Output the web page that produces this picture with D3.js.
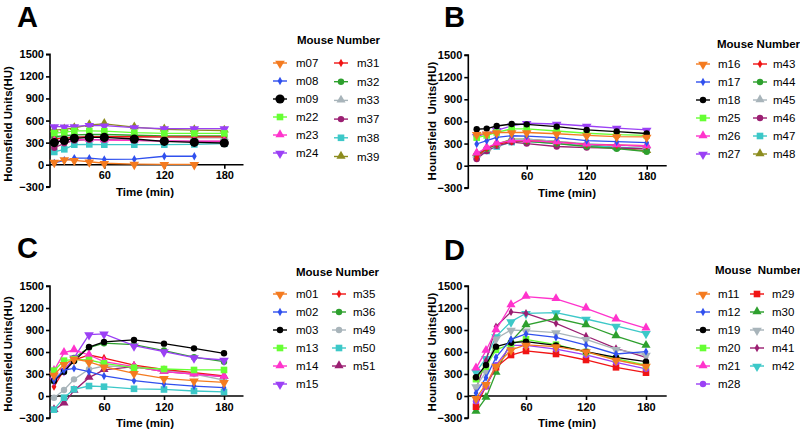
<!DOCTYPE html>
<html><head><meta charset="utf-8">
<script src="https://cdn.jsdelivr.net/npm/d3@7"></script>
<style>
body{margin:0;background:#fff;}
svg{display:block;font-family:"Liberation Sans",Arial,sans-serif;}
text{white-space:pre;}
</style></head>
<body><svg id="c" width="800" height="432"></svg>
<script>
// ---------- DATA ----------
const times = [10, 20, 30, 45, 60, 90, 120, 150, 180];
const yTicks = [-300, 0, 300, 600, 900, 1200, 1500];
const xTicks = [60, 120, 180];

const namesA = ["m07","m08","m09","m22","m23","m24","m31","m32","m33","m37","m38","m39"];
const valuesA = [
  [35, 70, 60, 40, 20, 8, 5, 5],
  [25, 60, 90, 88, 72, 75, 115, 115],
  [300, 330, 358, 371, 371, 349, 317, 304, 295],
  [430, 440, 460, 460, 455, 435, 425, 425, 425],
  [320, 330, 345, 340, 335, 330, 325, 320, 320],
  [520, 515, 520, 535, 530, 505, 490, 490, 490],
  [350, 360, 370, 380, 380, 380, 378, 378, 378],
  [380, 395, 405, 410, 410, 400, 392, 390, 390],
  [360, 370, 380, 385, 385, 375, 370, 365, 365],
  [230, 290, 330, 340, 340, 330, 320, 318, 318],
  [173, 209, 272, 276, 272, 272, 272, 275, 285],
  [470, 480, 500, 540, 555, 510, 480, 470, 465]
];

const namesB = ["m16","m17","m18","m25","m26","m27","m43","m44","m45","m46","m47","m48"];
const valuesB = [
  [425, 433, 450, 450, 450, 433, 410, 395, 390],
  [294, 339, 384, 406, 400, 380, 340, 325, 312],
  [494, 503, 538, 565, 560, 530, 485, 463, 436],
  [380, 410, 450, 500, 500, 470, 440, 420, 410],
  [167, 244, 303, 340, 340, 320, 290, 280, 270],
  [400, 430, 480, 540, 575, 565, 538, 509, 485],
  [110, 240, 290, 330, 340, 320, 290, 280, 270],
  [150, 230, 290, 340, 330, 300, 260, 230, 190],
  [140, 220, 280, 350, 360, 330, 300, 280, 260],
  [90, 200, 270, 320, 300, 260, 245, 240, 230],
  [120, 200, 260, 320, 330, 300, 270, 250, 230],
  [160, 230, 290, 360, 360, 330, 290, 240, 200]
];

const namesC = ["m01","m02","m03","m13","m14","m15","m35","m36","m49","m50","m51"];
const valuesC = [
  [286, 432, 505, 464, 400, 310, 241, 209, 186],
  [218, 354, 377, 332, 273, 209, 164, 136, 114],
  [209, 332, 477, 668, 737, 764, 714, 650, 582],
  [345, 482, 500, 491, 445, 386, 368, 355, 355],
  [345, 591, 627, 559, 468, 400, 332, 300, 264],
  [220, 350, 520, 838, 848, 686, 605, 523, 491],
  [127, 355, 490, 559, 518, 420, 364, 318, 273],
  [200, 330, 520, 660, 720, 700, 620, 530, 468],
  [-23, 82, 227, 364, 409, 400, 355, 300, 218],
  [-186, -23, 91, 136, 127, 98, 89, 68, 55],
  [-190, -100, 73, 250, 355, 400, 332, 300, 264]
];

const namesD = ["m11","m12","m19","m20","m21","m28","m29","m30","m40","m41","m42"];
const valuesD = [
  [-30, 160, 410, 630, 696, 673, 605, 491, 409],
  [40, 250, 527, 773, 846, 800, 695, 573, 605],
  [255, 423, 673, 727, 741, 691, 605, 527, 468],
  [230, 400, 630, 710, 773, 700, 600, 510, 420],
  [377, 618, 900, 1241, 1355, 1323, 1196, 1046, 923],
  [-70, 130, 420, 690, 690, 640, 560, 460, 370],
  [-146, 136, 391, 559, 614, 573, 491, 391, 318],
  [-214, -23, 318, 741, 968, 1060, 968, 818, 686],
  [130, 330, 780, 900, 891, 864, 773, 636, 560],
  [100, 480, 946, 1146, 1128, 991, 818, 650, 527],
  [330, 514, 810, 1014, 1128, 1137, 1050, 955, 855]
];

// ---------- STYLES ----------
const C = {orange:"#F47B20", blue:"#3050EE", black:"#000000", lime:"#66FF33", magenta:"#FF33CC",
  purple:"#9B40F5", red:"#F01414", green:"#2EA02E", gray:"#A8B4BA", dmag:"#9B1F72", teal:"#3CC8C8", olive:"#8C8C1E"};
const styleA = [[C.orange,"dn"],[C.blue,"dia"],[C.black,"bigcirc"],[C.lime,"sq"],[C.magenta,"up"],[C.purple,"dn"],
  [C.red,"dia"],[C.green,"circ"],[C.gray,"up"],[C.dmag,"circ"],[C.teal,"sq"],[C.olive,"up"]];
const styleB = [[C.orange,"dn"],[C.blue,"dia"],[C.black,"circ"],[C.lime,"sq"],[C.magenta,"up"],[C.purple,"dn"],
  [C.red,"dia"],[C.green,"circ"],[C.gray,"up"],[C.dmag,"circ"],[C.teal,"sq"],[C.olive,"up"]];
const styleC = [[C.orange,"dn"],[C.blue,"dia"],[C.black,"circ"],[C.lime,"sq"],[C.magenta,"up"],[C.purple,"dn"],
  [C.red,"dia"],[C.green,"circ"],[C.gray,"circ"],[C.teal,"sq"],[C.dmag,"up"]];
const styleD = [[C.orange,"dn"],[C.blue,"dia"],[C.black,"circ"],[C.lime,"sq"],[C.magenta,"up"],[C.purple,"circ"],
  [C.red,"sq"],[C.green,"up"],[C.gray,"dn"],[C.dmag,"dia"],[C.teal,"dn"]];

const panels = [
  {letter:"A", names:namesA, values:valuesA, style:styleA, x0:44.3, yAx:50, xEnd:243.5, y0:164.7, y1500:54.3,
   letterX:17, letterY:27, ylabel:"Hounsfield Units(HU)", ylabX:12, ylabY:124, xlabX:145, xlabY:196,
   legTitle:"Mouse Number", legTX:297, legTY:44, c1:[280,296], c2:[341,357], r1:63, r2:63, st1:18, st2:18.7},
  {letter:"B", names:namesB, values:valuesB, style:styleB, x0:466.7, yAx:468.3, xEnd:666.7, y0:165.7, y1500:55,
   letterX:444, letterY:27, ylabel:"Hounsfield  Units(HU)", ylabX:436, ylabY:121, xlabX:567, xlabY:197,
   legTitle:"Mouse Number", legTX:717, legTY:48, c1:[703,718], c2:[760,773], r1:64, r2:64, st1:18, st2:18},
  {letter:"C", names:namesC, values:valuesC, style:styleC, x0:44, yAx:50, xEnd:243.5, y0:396, y1500:286,
   letterX:17, letterY:258, ylabel:"Hounsfield Units(HU)", ylabX:12, ylabY:354, xlabX:145, xlabY:427,
   legTitle:"Mouse Number", legTX:296, legTY:276, c1:[280,296], c2:[339,353], r1:294, r2:294, st1:18, st2:18},
  {letter:"D", names:namesD, values:valuesD, style:styleD, x0:466, yAx:468.3, xEnd:666.7, y0:396, y1500:286,
   letterX:444, letterY:260, ylabel:"Hounsfield  Units(HU)", ylabX:436, ylabY:352, xlabX:567, xlabY:427,
   legTitle:"Mouse  Number", legTX:715, legTY:274, c1:[703,718], c2:[757,772], r1:294, r2:294, st1:18, st2:18}
];

const svg = d3.select("#c");

function drawSymbol(g, type, color, x, y) {
  let path;
  switch (type) {
    case "dn": path = d3.symbol(d3.symbolTriangle, 40)();
      g.append("path").attr("d", path).attr("transform", `translate(${x},${y+0.5}) rotate(180)`).attr("fill", color); return;
    case "up": path = d3.symbol(d3.symbolTriangle, 36)();
      g.append("path").attr("d", path).attr("transform", `translate(${x},${y-0.5})`).attr("fill", color); return;
    case "circ": g.append("circle").attr("cx", x).attr("cy", y).attr("r", 3.2).attr("fill", color); return;
    case "bigcirc": g.append("circle").attr("cx", x).attr("cy", y).attr("r", 4.6).attr("fill", color); return;
    case "sq": g.append("rect").attr("x", x-3.3).attr("y", y-3.3).attr("width", 6.6).attr("height", 6.6).attr("fill", color); return;
    case "dia": path = d3.symbol(d3.symbolDiamond, 20)();
      g.append("path").attr("d", path).attr("transform", `translate(${x},${y})`).attr("fill", color); return;
  }
}

panels.forEach(p => {
  const x = d3.scaleLinear().domain([0, 200]).range([p.x0, p.x0 + 200]);
  const y = d3.scaleLinear().domain([0, 1500]).range([p.y0, p.y1500]);
  const g = svg.append("g");

  g.append("text").attr("x", p.letterX).attr("y", p.letterY).attr("font-size", 29).attr("font-weight", "bold").text(p.letter);

  const yAxis = d3.axisLeft(y).tickValues(yTicks).tickSize(4).tickPadding(2).tickFormat(d3.format("d"));
  const ya = g.append("g").attr("transform", `translate(${p.yAx},0)`).call(yAxis);
  ya.select(".domain").attr("stroke", "#000").attr("stroke-width", 1.6).attr("d", `M-4,${y(-300)}H0V${y(1500)}H-4`);
  ya.selectAll(".tick line").attr("stroke", "#000").attr("stroke-width", 1.6);
  ya.selectAll(".tick text").attr("font-size", 11).attr("font-weight", "bold").attr("fill", "#000").attr("font-family", "Liberation Sans, Arial");

  const xAxis = d3.axisBottom(x).tickValues(xTicks).tickSize(4).tickPadding(3);
  const xa = g.append("g").attr("transform", `translate(0,${y(0)})`).call(xAxis);
  xa.select(".domain").attr("stroke", "#000").attr("stroke-width", 1.6).attr("d", `M${p.yAx},0H${p.xEnd}`);
  xa.selectAll(".tick line").attr("stroke", "#000").attr("stroke-width", 1.6);
  xa.selectAll(".tick text").attr("font-size", 11).attr("font-weight", "bold").attr("fill", "#000").attr("font-family", "Liberation Sans, Arial");

  g.append("text").attr("x", p.xlabX).attr("y", p.xlabY).attr("text-anchor", "middle")
    .attr("font-size", 11.5).attr("font-weight", "bold").text("Time (min)");
  g.append("text").attr("transform", `translate(${p.ylabX},${p.ylabY}) rotate(-90)`).attr("text-anchor", "middle")
    .attr("font-size", 11.5).attr("font-weight", "bold").text(p.ylabel);

  // series: first data set drawn on top (reverse drawing order)
  const line = d3.line().x((d, i) => x(times[i])).y(d => y(d));
  const order = d3.range(p.values.length).reverse();
  order.forEach(k => {
    const vals = p.values[k];
    const [col, sym] = p.style[k];
    const sg = g.append("g");
    sg.append("path").attr("d", line(vals)).attr("fill", "none").attr("stroke", col).attr("stroke-width", 1.3);
    vals.forEach((v, i) => drawSymbol(sg, sym, col, x(times[i]), y(v)));
  });

  g.append("text").attr("x", p.legTX).attr("y", p.legTY).attr("font-size", 11.5).attr("font-weight", "bold").text(p.legTitle);
  p.names.forEach((n, k) => {
    const col2 = k >= 6;
    const idx = col2 ? k - 6 : k;
    const cx = col2 ? p.c2 : p.c1;
    const cy = col2 ? p.r2 + idx * p.st2 : p.r1 + idx * p.st1;
    const [col, sym] = p.style[k];
    g.append("line").attr("x1", cx[0] - 7).attr("x2", cx[0] + 7).attr("y1", cy).attr("y2", cy).attr("stroke", col).attr("stroke-width", 1.4);
    drawSymbol(g, sym, col, cx[0], cy);
    g.append("text").attr("x", cx[1]).attr("y", cy + 4).attr("font-size", 11.5).text(n);
  });
});
</script></body></html>
